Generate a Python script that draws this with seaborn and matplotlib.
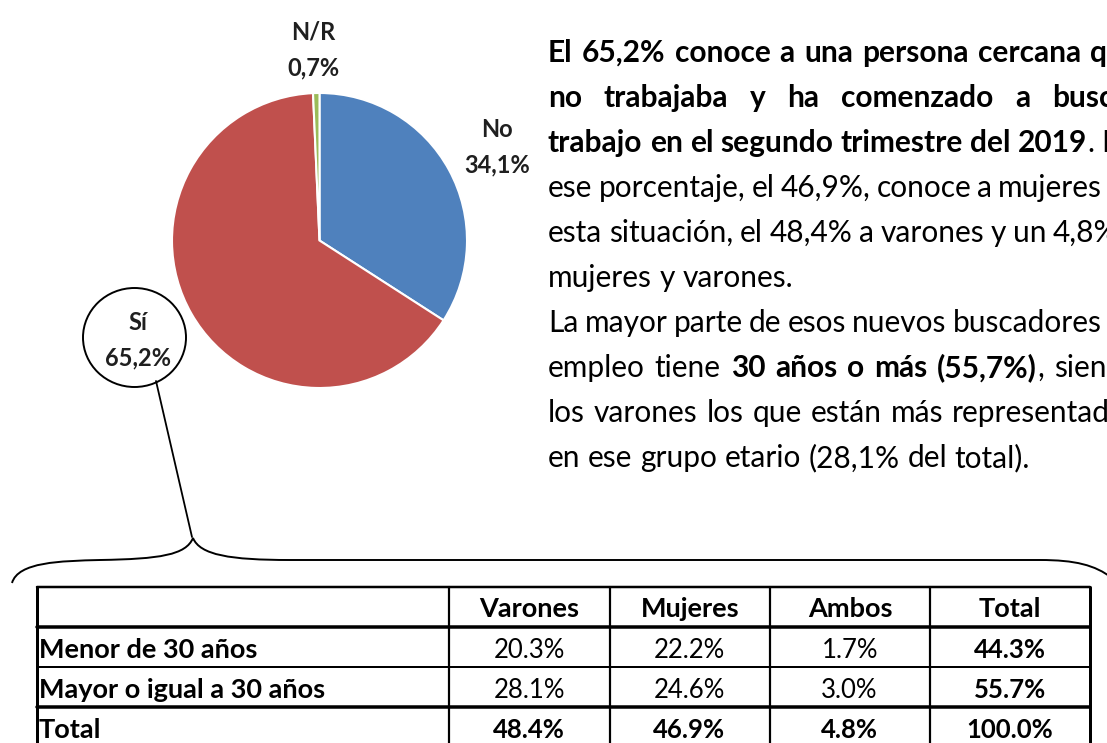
import matplotlib
matplotlib.use('Agg')
import matplotlib.pyplot as plt
from matplotlib.patches import Ellipse, PathPatch
from matplotlib.path import Path
from matplotlib.colors import ListedColormap
import pandas as pd
import seaborn as sns

sns.set_theme(style='white')
plt.rcParams['font.family'] = ['Lato', 'DejaVu Sans']

# Torta: ¿conoce a alguien que empezó a buscar trabajo?
categorias = ['No', 'Sí', 'N/R']
porcentajes = [34.1, 65.2, 0.7]
etiquetas_torta = ['No\n34,1%', 'Sí\n65,2%', 'N/R\n0,7%']
colores = sns.color_palette(['#4F81BD', '#C0504D', '#9BBB59'])

# Tabla por edad y sexo
filas = ['Menor de 30 años', 'Mayor o igual a 30 años', 'Total']
columnas = ['Varones', 'Mujeres', 'Ambos', 'Total']
varones = [20.3, 28.1, 48.4]
mujeres = [22.2, 24.6, 46.9]
ambos = [1.7, 3.0, 4.8]
total = [44.3, 55.7, 100.0]

# Texto (** = negrita)
parrafo = [
    '**El 65,2% conoce a una persona cercana que**',
    '**no trabajaba y ha comenzado a buscar**',
    '**trabajo en el segundo trimestre del 2019**. De',
    'ese porcentaje, el 46,9%, conoce a mujeres en',
    'esta situación, el 48,4% a varones y un 4,8% a',
    'mujeres y varones.',
    'La mayor parte de esos nuevos buscadores de',
    'empleo tiene **30 años o más (55,7%)**, siendo',
    'los varones los que están más representados',
    'en ese grupo etario (28,1% del total).',
]
justificada = [True, True, True, True, True, False, True, True, True, False]

W, H = 1107, 743
fig = plt.figure(figsize=(W / 100, H / 100), dpi=100)
fig.patch.set_facecolor('white')

# capa en píxeles para textos y dibujos
ov = fig.add_axes([0, 0, 1, 1])
ov.set_xlim(0, W)
ov.set_ylim(H, 0)
ov.axis('off')

# --- torta ---
cx, cy, r = 319.5, 240.5, 147.5
ax_pie = fig.add_axes([(cx - r) / W, 1 - (cy + r) / H, 2 * r / W, 2 * r / H])
ax_pie.pie(porcentajes, colors=colores, startangle=90, counterclock=False,
           wedgeprops=dict(edgecolor='white', linewidth=1.5))
ax_pie.set_xlim(-1, 1)
ax_pie.set_ylim(-1, 1)

pos_etiquetas = {'No': (497, 137), 'Sí': (138, 330), 'N/R': (313, 40)}
for cat, et in zip(categorias, etiquetas_torta):
    x, y = pos_etiquetas[cat]
    l1, l2 = et.split('\n')
    ov.text(x, y, l1, ha='center', va='baseline', fontsize=17,
            fontweight='bold', color='#1f1f1f')
    ov.text(x, y + 35, l2, ha='center', va='baseline', fontsize=17,
            fontweight='bold', color='#1f1f1f')

# círculo y línea hacia la tabla
ov.add_patch(Ellipse((134.5, 337.5), 103, 99, fill=False, ec='black', lw=1.4))
ov.plot([156, 192], [381, 537], color='black', lw=1.3)

# llave
verts = [(12, 583), (18, 562), (60, 561), (100, 560),
         (160, 559), (186, 555), (193, 538),
         (200, 555), (230, 560), (290, 560),
         (1040, 560),
         (1075, 560), (1095, 565), (1112, 578)]
codes = [Path.MOVETO] + [Path.CURVE4] * 6 + [Path.CURVE4] * 3 + [Path.LINETO] + [Path.CURVE4] * 3
ov.add_patch(PathPatch(Path(verts, codes), fill=False, ec='black', lw=1.4))

# --- párrafo justificado ---
renderer = fig.canvas.get_renderer()
fs_par = 21.5


def ancho(txt, bold):
    t = ov.text(0, 0, txt, fontsize=fs_par, fontweight='bold' if bold else 'normal')
    w = t.get_window_extent(renderer).width
    t.remove()
    return w


def palabras(linea):
    out, nueva = [], True
    for i, seg in enumerate(linea.split('**')):
        bold = i % 2 == 1
        for j, p in enumerate(seg.split(' ')):
            if j > 0:
                nueva = True
            if p == '':
                continue
            if nueva or not out:
                out.append([])
                nueva = False
            out[-1].append((p, bold))
    return out


espacio = ancho('a a', False) - ancho('aa', False)
x0, R = 548, 1140
for i, (linea, just) in enumerate(zip(parrafo, justificada)):
    y = 62 + 45 * i
    ws = palabras(linea)
    anchos = [sum(ancho(p, b) for p, b in w) for w in ws]
    gap = (R - x0 - sum(anchos)) / (len(ws) - 1) if just else espacio
    gap = max(gap, espacio * 0.8)
    x = x0
    for w, aw in zip(ws, anchos):
        xx = x
        for p, b in w:
            ov.text(xx, y, p, va='baseline', ha='left', fontsize=fs_par,
                    fontweight='bold' if b else 'normal', color='black')
            xx += ancho(p, b)
        x += aw + gap

# --- tabla ---
cols_x = [37, 449, 610, 770, 930, 1090]
filas_y = [587, 627, 667, 707, 747]

df = pd.DataFrame({'Varones': varones, 'Mujeres': mujeres, 'Ambos': ambos,
                   'Total': total}, index=filas)[columnas]
anot = df.map(lambda v: f'{v:.1f}%')

ax_t = fig.add_axes([cols_x[1] / W, 1 - filas_y[-1] / H,
                     (cols_x[-1] - cols_x[1]) / W, (filas_y[-1] - filas_y[1]) / H])
sns.heatmap(df, ax=ax_t, cmap=ListedColormap(['white']), cbar=False,
            annot=anot, fmt='', xticklabels=False, yticklabels=False,
            annot_kws=dict(fontsize=18.5, color='black', va='baseline'))
ax_t.set_xlabel('')
ax_t.set_ylabel('')
for k, t in enumerate(ax_t.texts):
    fi, co = divmod(k, len(columnas))
    xt, yt = t.get_position()
    t.set_position((xt, yt + 11 / 40))
    if fi == len(filas) - 1 or co == len(columnas) - 1:
        t.set_fontweight('bold')
for s in ax_t.spines.values():
    s.set_visible(False)

for j, c in enumerate(columnas):
    ov.text((cols_x[j + 1] + cols_x[j + 2]) / 2, 617, c, ha='center',
            va='baseline', fontsize=19.5, fontweight='bold', color='black')
for i, f in enumerate(filas):
    ov.text(39, filas_y[i + 1] + 31, f, ha='left', va='baseline', fontsize=19.5,
            fontweight='bold', color='black')

px = 0.72
ov.plot([cols_x[0], cols_x[-1]], [filas_y[0]] * 2, color='black', lw=2.5 * px, zorder=5)
ov.plot([cols_x[0], cols_x[-1]], [filas_y[1]] * 2, color='black', lw=3.5 * px, zorder=5)
ov.plot([cols_x[0], cols_x[-1]], [filas_y[2]] * 2, color='black', lw=2 * px, zorder=5)
ov.plot([cols_x[0], cols_x[-1]], [filas_y[3]] * 2, color='black', lw=3.5 * px, zorder=5)
for k, xv in enumerate(cols_x):
    lw = 3 if k in (0, len(cols_x) - 1) else 2.2
    ov.plot([xv, xv], [filas_y[0], filas_y[-1]], color='black', lw=lw * px, zorder=5)
ov.set_zorder(3)

fig.savefig('out.png', dpi=100, facecolor='white')
